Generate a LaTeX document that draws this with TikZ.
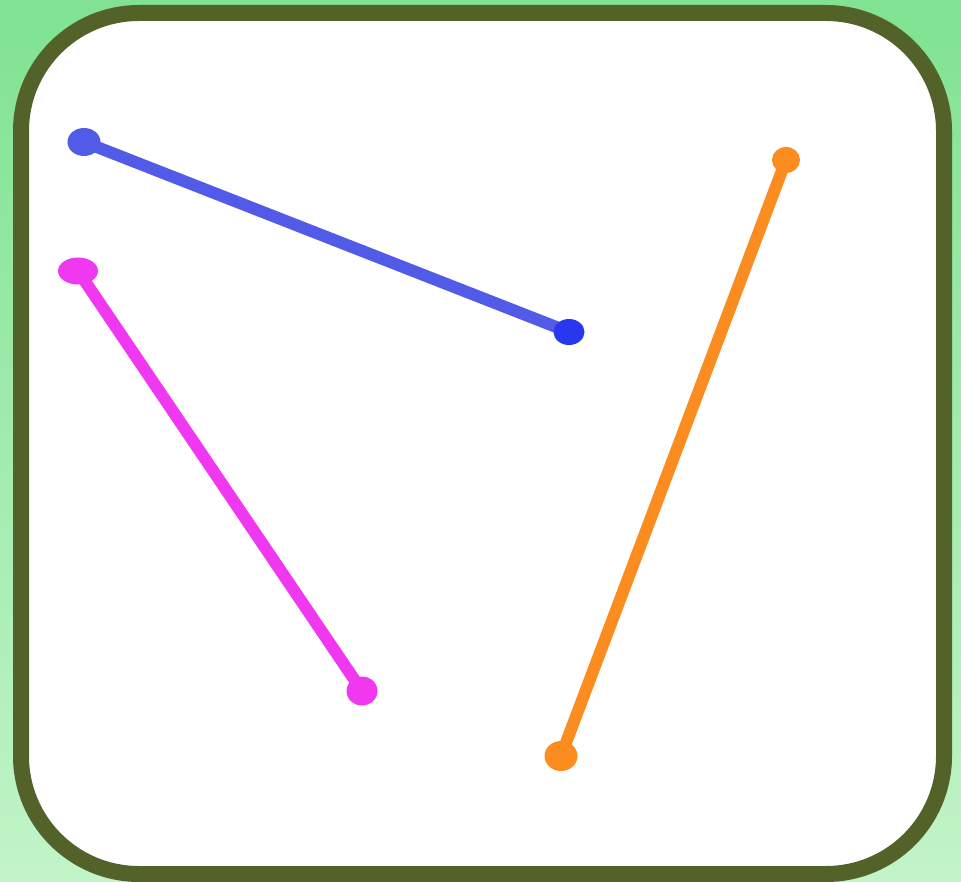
\documentclass[tikz,border=0pt]{standalone}
\usetikzlibrary{shapes.geometric}
\definecolor{bgtop}{RGB}{128,226,146}
\definecolor{bgbot}{RGB}{194,244,200}
\definecolor{frame}{RGB}{82,98,40}
\definecolor{blueline}{RGB}{82,90,232}
\definecolor{bluedot}{RGB}{40,56,240}
\definecolor{magline}{RGB}{240,56,240}
\definecolor{orline}{RGB}{250,140,32}
\tikzset{
  seg/.style={line width=12pt, line cap=round},
  dot/.style={ellipse, inner sep=0pt, draw=none},
}
\begin{document}
\begin{tikzpicture}[x=1pt,y=-1pt]
\useasboundingbox (0,0) rectangle (961,882);
\shade[top color=bgtop, bottom color=bgbot] (0,0) rectangle (961,882);
\draw[frame, line width=16pt, fill=white, rounded corners=118pt] (21,13) rectangle (944,874);
% coordinates
\coordinate (b1) at (84,142);
\coordinate (b2) at (569,332);
\coordinate (m1) at (78,271);
\coordinate (m2) at (362,691);
\coordinate (o1) at (786,160);
\coordinate (o2) at (561,756);
% segments
\draw[seg, blueline] (b1) -- (b2);
\draw[seg, magline] (m1) -- (m2);
\draw[seg, orline] (o1) -- (o2);
% end dots
\node[dot, fill=blueline, minimum width=33pt, minimum height=28pt] (B1) at (b1) {};
\node[dot, fill=bluedot, minimum width=31pt, minimum height=26pt] (B2) at (b2) {};
\node[dot, fill=magline, minimum width=40pt, minimum height=27pt] (M1) at (m1) {};
\node[dot, fill=magline, minimum width=31pt, minimum height=29pt] (M2) at (m2) {};
\node[dot, fill=orline, minimum width=28pt, minimum height=26pt] (O1) at (o1) {};
\node[dot, fill=orline, minimum width=33pt, minimum height=30pt] (O2) at (o2) {};
\end{tikzpicture}
\end{document}
